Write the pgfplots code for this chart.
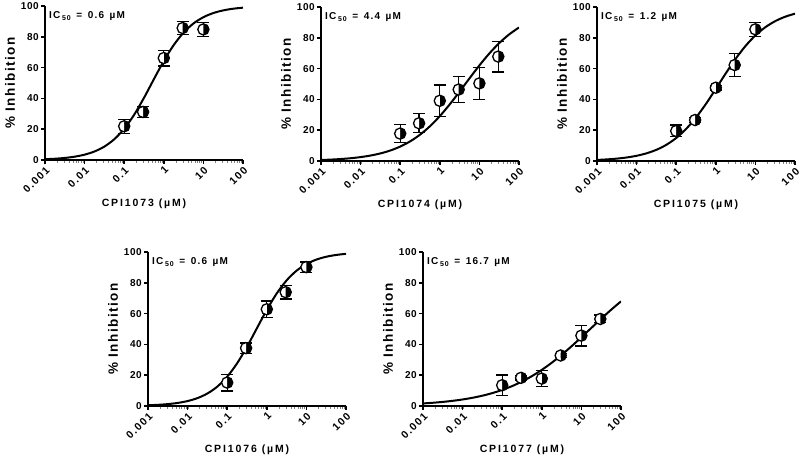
\documentclass[border=0pt]{standalone}
\usepackage{fontspec}
\setmainfont{Liberation Sans}
\newfontfamily\tk[LetterSpace=6]{Liberation Sans}
\newfontfamily\tx[LetterSpace=14]{Liberation Sans}
\newfontfamily\lx[LetterSpace=18]{Liberation Sans}
\newfontfamily\ly[LetterSpace=11]{Liberation Sans}
\newfontfamily\icf[LetterSpace=12]{Liberation Sans}
\usepackage{pgfplots}
\usepackage{pgfplotstable}
\pgfplotsset{compat=1.18}

% fitted dose-response curves, sampled every quarter decade
\pgfplotstableread{
x        a      b      c      d      e
0.001    0.51   0.65   0.69   0.47   1.66
0.001778 0.82   0.91   1.04   0.76   2.10
0.003162 1.33   1.28   1.54   1.23   2.66
0.005623 2.16   1.80   2.29   1.99   3.36
0.01     3.47   2.53   3.39   3.21   4.24
0.01778  5.54   3.54   4.98   5.13   5.34
0.03162  8.73   4.92   7.27   8.12   6.70
0.05623  13.50  6.81   10.50  12.59  8.38
0.1      20.28  9.36   14.94  19.03  10.44
0.1778   29.33  12.73  20.81  27.71  12.92
0.3162   40.39  17.09  28.22  38.46  15.90
0.5623   52.50  22.54  37.04  50.49  19.40
1        64.33  29.14  46.82  62.45  23.46
1.778    74.62  36.74  56.84  73.07  28.08
3.162    82.74  45.06  66.34  81.57  33.20
5.623    88.67  53.67  74.68  87.84  38.76
10       92.73  62.07  81.53  92.17  44.64
17.78    95.42  69.80  86.85  95.05  50.66
31.62    97.14  76.55  90.81  96.91  56.66
56.23    98.23  82.18  93.66  98.08  62.48
100      98.91  86.69  95.67  98.81  67.95
}\curves

\pgfplotsset{
  every axis/.append style={
    scale only axis, width=198pt, height=154pt, anchor=south west,
    xmin=0.001, xmax=100, ymin=0, ymax=100,
    axis x line*=bottom, axis y line*=left,
    axis line style={line width=1.8pt},
    xtick={0.001,0.01,0.1,1,10,100},
    xticklabels={0.001,0.01,0.1,1,10,100},
    ytick={0,20,40,60,80,100},
    yticklabels={0,20,40,60,80,100},
    minor xtick={},
    tick align=outside, major tick length=4pt,
    major tick style={line width=1.6pt, black},
    yticklabel style={font=\tk\bfseries\fontsize{10}{10}\selectfont, inner sep=2pt},
    xticklabel style={font=\tx\bfseries\fontsize{10.5}{10.5}\selectfont,
      rotate=45, anchor=north east, inner sep=1pt},
    xlabel style={at={(axis description cs:0.5,-0.285)}, anchor=center,
      font=\lx\bfseries\fontsize{10.5}{10.5}\selectfont},
    ylabel style={at={(axis description cs:-0.177,0.5)}, anchor=center,
      font=\ly\bfseries\fontsize{13.5}{13.5}\selectfont},
    ylabel={\% Inhibition},
  },
}
\newcommand{\ic}[1]{\node[anchor=west, inner sep=0pt, font=\icf\bfseries\fontsize{10}{10}\selectfont]
  at (rel axis cs:0.02,0.935) {IC\,{\fontsize{7}{7}\selectfont\raisebox{-2.5pt}{50}}\, =\, #1\, µM};}

\begin{document}
\begin{tikzpicture}
\path[use as bounding box] (0pt,0pt) rectangle (800pt,460pt);

\begin{semilogxaxis}[at={(45pt,300pt)}, xlabel={CPI1073 (µM)}]
\addplot[only marks, mark=halfcircle*, mark size=5.6pt,
    mark options={rotate=-90, fill=black, draw=black, line width=1.3pt, mark color=white},
    error bars/.cd, y dir=both, y explicit,
    error bar style={line width=1.3pt, black},
    error mark options={rotate=90, mark size=6pt, line width=1.3pt, black}]
  coordinates {
  (0.1,21.9) +- (0,4.5) (0.3,31.2) +- (0,3.6) (1,66.2) +- (0,5.1)
  (3,85.7) +- (0,4.3) (10,84.8) +- (0,4.5)};
\addplot[no marks, smooth, line width=2pt, black] table[x=x, y=a] {\curves};
\ic{0.6}
\end{semilogxaxis}

\begin{semilogxaxis}[at={(321pt,299pt)}, xlabel={CPI1074 (µM)}]
\addplot[only marks, mark=halfcircle*, mark size=5.6pt,
    mark options={rotate=-90, fill=black, draw=black, line width=1.3pt, mark color=white},
    error bars/.cd, y dir=both, y explicit,
    error bar style={line width=1.3pt, black},
    error mark options={rotate=90, mark size=6pt, line width=1.3pt, black}]
  coordinates {
  (0.1,17.8) +- (0,5.7) (0.3,24.5) +- (0,6.2) (1,39.1) +- (0,10.3)
  (3,46.4) +- (0,8.6) (10,50.4) +- (0,10.3) (30,67.8) +- (0,10.0)};
\addplot[no marks, smooth, line width=2pt, black] table[x=x, y=b] {\curves};
\ic{4.4}
\end{semilogxaxis}

\begin{semilogxaxis}[at={(597pt,299pt)}, xlabel={CPI1075 (µM)}]
\addplot[only marks, mark=halfcircle*, mark size=5.6pt,
    mark options={rotate=-90, fill=black, draw=black, line width=1.3pt, mark color=white},
    error bars/.cd, y dir=both, y explicit,
    error bar style={line width=1.3pt, black},
    error mark options={rotate=90, mark size=6pt, line width=1.3pt, black}]
  coordinates {
  (0.1,19.5) +- (0,3.8) (0.3,26.6) +- (0,1.5) (1,47.6) +- (0,1.5)
  (3,62.3) +- (0,7.3) (10,85.5) +- (0,4.5)};
\addplot[no marks, smooth, line width=2pt, black] table[x=x, y=c] {\curves};
\ic{1.2}
\end{semilogxaxis}

\begin{semilogxaxis}[at={(148pt,54pt)}, xlabel={CPI1076 (µM)}]
\addplot[only marks, mark=halfcircle*, mark size=5.6pt,
    mark options={rotate=-90, fill=black, draw=black, line width=1.3pt, mark color=white},
    error bars/.cd, y dir=both, y explicit,
    error bar style={line width=1.3pt, black},
    error mark options={rotate=90, mark size=6pt, line width=1.3pt, black}]
  coordinates {
  (0.1,15.2) +- (0,5.4) (0.3,37.6) +- (0,3.3) (1,62.8) +- (0,5.3)
  (3,73.9) +- (0,4.5) (10,90.2) +- (0,3.3)};
\addplot[no marks, smooth, line width=2pt, black] table[x=x, y=d] {\curves};
\ic{0.6}
\end{semilogxaxis}

\begin{semilogxaxis}[at={(423pt,54pt)}, xlabel={CPI1077 (µM)}]
\addplot[only marks, mark=halfcircle*, mark size=5.6pt,
    mark options={rotate=-90, fill=black, draw=black, line width=1.3pt, mark color=white},
    error bars/.cd, y dir=both, y explicit,
    error bar style={line width=1.3pt, black},
    error mark options={rotate=90, mark size=6pt, line width=1.3pt, black}]
  coordinates {
  (0.1,13.5) +- (0,6.7) (0.3,18.3) +- (0,1.5) (1,17.8) +- (0,5.2)
  (3,32.8) +- (0,1.5) (10,45.7) +- (0,6.7) (30,56.5) +- (0,2.5)};
\addplot[no marks, smooth, line width=2pt, black] table[x=x, y=e] {\curves};
\ic{16.7}
\end{semilogxaxis}
\end{tikzpicture}
\end{document}
